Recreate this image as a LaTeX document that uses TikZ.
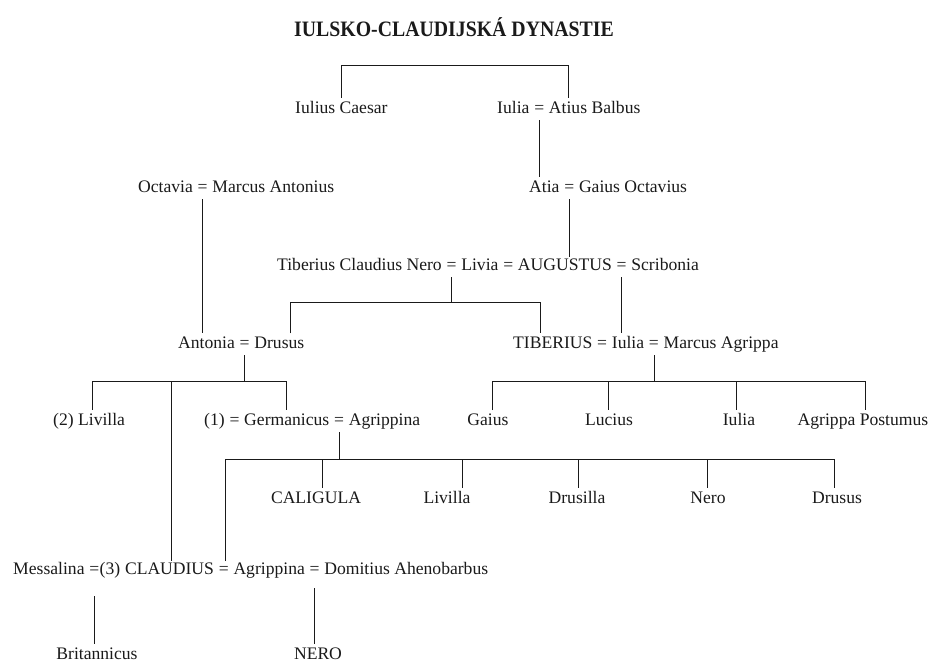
\documentclass[tikz,border=0pt]{standalone}
\usepackage{fontspec}
\usepackage{graphicx}
\setmainfont{Liberation Serif}
\usetikzlibrary{calc}
\definecolor{ink}{HTML}{1A1A1A}
\newcommand{\eqs}{~=~\null}
\tikzset{
  t/.style={inner sep=0pt, anchor=base west, text=ink, font=\fontsize{17.6}{20}\selectfont},
  tc/.style={t, anchor=base},
  ln/.style={draw=ink, line width=0.7pt},
}
\begin{document}
\begin{tikzpicture}[x=1pt, y=-1pt]
\useasboundingbox[fill=white] (0,0) rectangle (935,662);

% title
\node[inner sep=0pt, anchor=base, text=ink, font=\bfseries\fontsize{22}{24}\selectfont] (title) at (454,36) {\scalebox{0.9}[1]{IULSKO-CLAUDIJSKÁ DYNASTIE}};

% row 1
\node[t] (caesar) at (295,113) {Iulius Caesar};
\node[t] (iulia1) at (497,113) {Iulia};
\node[t] (eqA) at (iulia1.base east) {\eqs};
\node[t] (atius) at (eqA.base east) {Atius Balbus};

% row 2
\node[t] (octavia) at (138,192) {Octavia};
\node[t] (eqB) at (octavia.base east) {\eqs};
\node[t] (antonius) at (eqB.base east) {Marcus Antonius};
\node[t] (atia) at (529,192) {Atia};
\node[t] (eqC) at (atia.base east) {\eqs};
\node[t] (octavius) at (eqC.base east) {Gaius Octavius};

% row 3
\node[t] (tcn) at (277,270) {Tiberius Claudius Nero};
\node[t] (eqD) at (tcn.base east) {\eqs};
\node[t] (livia) at (eqD.base east) {Livia};
\node[t] (eqE) at (livia.base east) {\eqs};
\node[t] (augustus) at (eqE.base east) {AUGUSTUS};
\node[t] (eqF) at (augustus.base east) {\eqs};
\node[t] (scribonia) at (eqF.base east) {Scribonia};

% row 4
\node[t] (antonia) at (178,348) {Antonia};
\node[t] (eqG) at (antonia.base east) {\eqs};
\node[t] (drususA) at (eqG.base east) {Drusus};
\node[t] (tiberius) at (513,348) {TIBERIUS};
\node[t] (eqH) at (tiberius.base east) {\eqs};
\node[t] (iulia2) at (eqH.base east) {Iulia};
\node[t] (eqI) at (iulia2.base east) {\eqs};
\node[t] (agrippa) at (eqI.base east) {Marcus Agrippa};

% row 5
\node[t] (livilla1) at (53,425) {(2) Livilla};
\node[t] (one) at (204,425) {(1)};
\node[t] (eqJ) at (one.base east) {\eqs};
\node[t] (germanicus) at (eqJ.base east) {Germanicus};
\node[t] (eqK) at (germanicus.base east) {\eqs};
\node[t] (agrippina1) at (eqK.base east) {Agrippina};
\node[tc] (gaiusC) at (488,425) {Gaius};
\node[tc] (lucius) at (609,425) {Lucius};
\node[tc] (iulia3) at (739,425) {Iulia};
\node[tc] (postumus) at (863,425) {Agrippa Postumus};

% row 6
\node[tc] (caligula) at (316,503) {CALIGULA};
\node[tc] (livilla2) at (447,503) {Livilla};
\node[tc] (drusilla) at (577,503) {Drusilla};
\node[tc] (nero1) at (708,503) {Nero};
\node[tc] (drusus2) at (837,503) {Drusus};

% row 7
\node[t] (messalina) at (13,574) {Messalina~\null};
\node[t] (eqL) at (messalina.base east) {=};
\node[t] (three) at (eqL.base east) {(3)~\null};
\node[t] (claudius) at (three.base east) {CLAUDIUS};
\node[t] (eqM) at (claudius.base east) {\eqs};
\node[t] (agrippina2) at (eqM.base east) {Agrippina};
\node[t] (eqN) at (agrippina2.base east) {\eqs};
\node[t] (domitius) at (eqN.base east) {Domitius Ahenobarbus};

% row 8
\node[tc] (britannicus) at (97,659) {Britannicus};
\node[tc] (nero2) at (318,659) {NERO};

% ---- connectors ----
% top sibling bracket
\coordinate (tbL) at (341,65);
\coordinate (tbR) at (568,65);
\draw[ln] ($(tbL |- caesar.north)+(0,-3)$) -- (tbL) -- (tbR) -- ($(tbR |- atius.north)+(0,-3)$);

% Iulia = Atius -> Atia
\draw[ln] ($(eqA.base)+(0,7)$) -- ($(eqA.base |- atia.north)+(0,-3)$);
% Atia = Gaius -> Augustus
\draw[ln] ($(eqC.base)+(0,7)$) -- ($(eqC.base |- augustus.north)+(0,-1)$);
% Octavia = Antonius -> Antonia
\draw[ln] ($(eqB.base)+(0,7)$) -- ($(eqB.base |- antonia.north)+(0,-3)$);
% Nero = Livia -> Drusus, Tiberius
\coordinate (eL) at (290,302);
\coordinate (eR) at (540,302);
\draw[ln] ($(eqD.base)+(0,7)$) -- (eqD.base |- eL);
\draw[ln] ($(eL |- drususA.north)+(0,-3)$) -- (eL) -- (eR) -- ($(eR |- tiberius.north)+(0,-3)$);
% Augustus = Scribonia -> Iulia
\draw[ln] ($(eqF.base)+(0,7)$) -- ($(eqF.base |- iulia2.north)+(0,-3)$);

% Antonia = Drusus -> children
\coordinate (gL) at (92,381);
\coordinate (gM) at (171,381);
\coordinate (gR) at (286,381);
\draw[ln] ($(eqG.base)+(0,7)$) -- (eqG.base |- gL);
\draw[ln] ($(gL |- livilla1.north)+(0,-3)$) -- (gL) -- (gR) -- ($(gR |- germanicus.north)+(0,-3)$);
\draw[ln] (gM) -- ($(gM |- claudius.north)+(0,-1)$);

% Iulia = Agrippa -> children
\coordinate (h1) at (492,381);
\coordinate (h2) at (608,381);
\coordinate (h3) at (736,381);
\coordinate (h4) at (865,381);
\draw[ln] ($(eqI.base)+(0,7)$) -- (eqI.base |- h1);
\draw[ln] ($(h1 |- gaiusC.north)+(0,-3)$) -- (h1) -- (h4) -- ($(h4 |- postumus.north)+(0,-3)$);
\draw[ln] (h2) -- ($(h2 |- lucius.north)+(0,-3)$);
\draw[ln] (h3) -- ($(h3 |- iulia3.north)+(0,-3)$);

% Germanicus = Agrippina -> children
\coordinate (k0) at (225,459);
\coordinate (k1) at (322,459);
\coordinate (k2) at (462,459);
\coordinate (k3) at (578,459);
\coordinate (k4) at (707,459);
\coordinate (k5) at (834,459);
\draw[ln] ($(eqK.base)+(0,7)$) -- (eqK.base |- k0);
\draw[ln] ($(k0 |- agrippina2.north)+(0,-1)$) -- (k0) -- (k5) -- ($(k5 |- drusus2.north)+(0,-3)$);
\draw[ln] (k1) -- ($(k1 |- caligula.north)+(0,-3)$);
\draw[ln] (k2) -- ($(k2 |- livilla2.north)+(0,-3)$);
\draw[ln] (k3) -- ($(k3 |- drusilla.north)+(0,-3)$);
\draw[ln] (k4) -- ($(k4 |- nero1.north)+(0,-3)$);

% Messalina = Claudius -> Britannicus
\draw[ln] ($(eqL.base)+(0,22)$) -- ($(eqL.base |- britannicus.north)+(0,-3)$);
% Agrippina = Domitius -> Nero
\draw[ln] ($(eqN.base)+(0,14)$) -- ($(eqN.base |- nero2.north)+(0,-3)$);
\end{tikzpicture}
\end{document}
